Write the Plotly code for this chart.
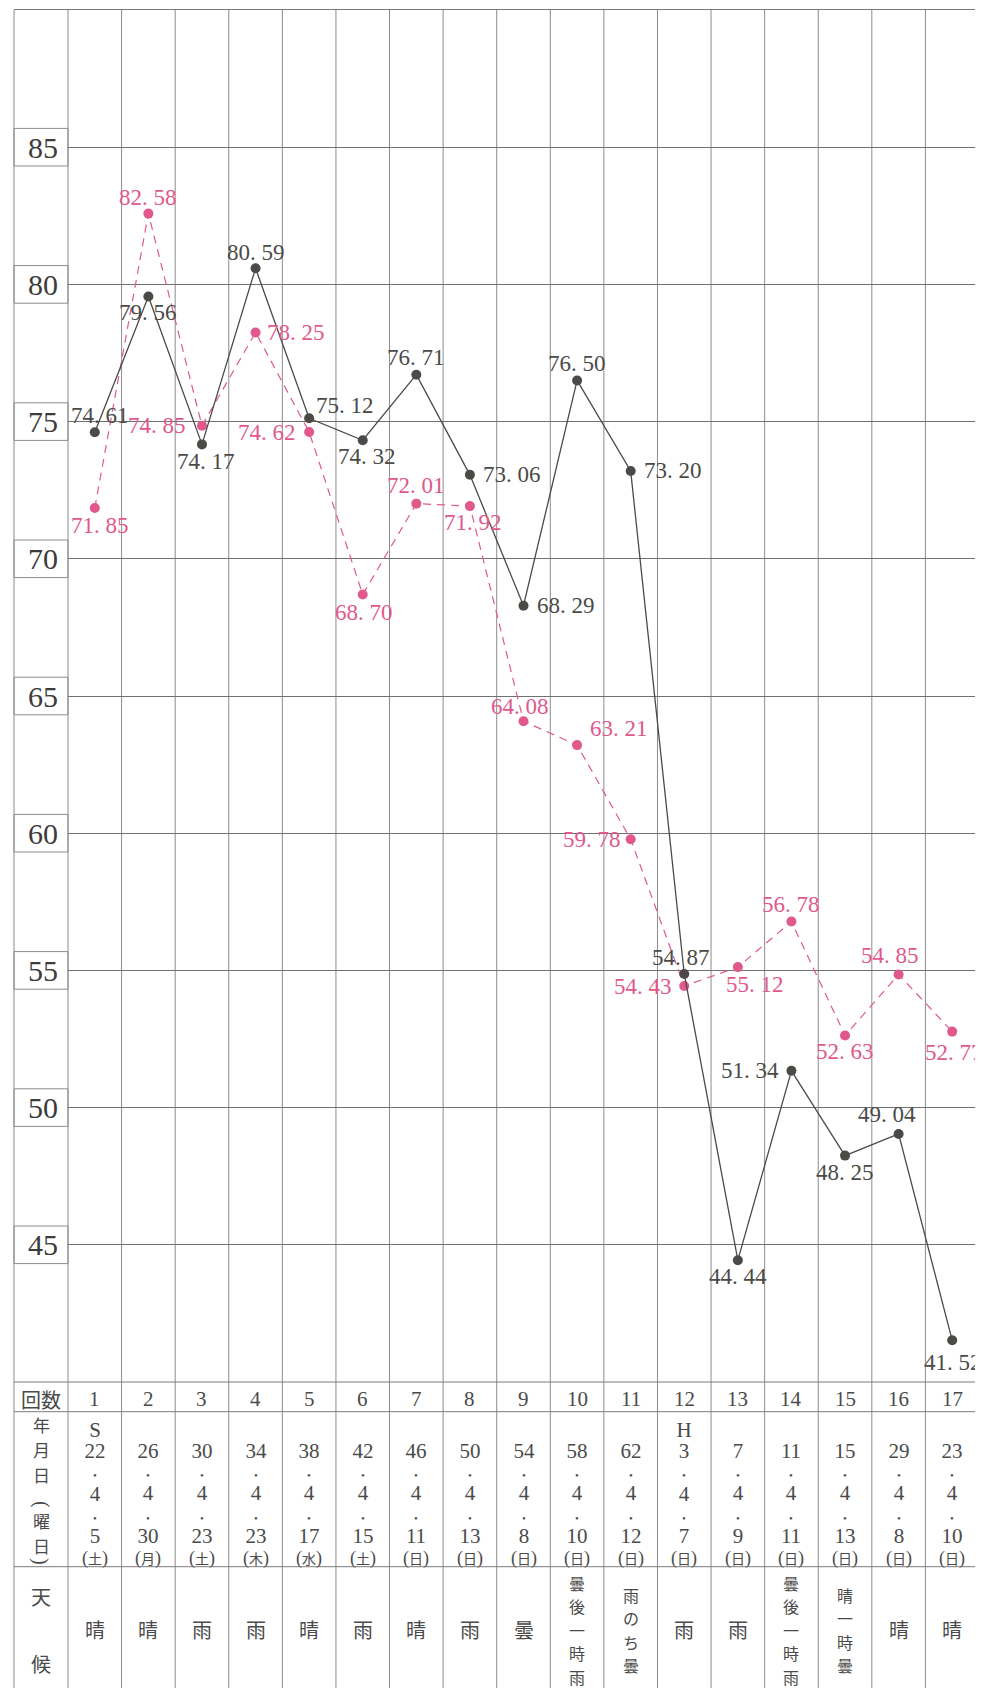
import plotly.graph_objects as go

# ---------------- data ----------------
rounds = list(range(1, 18))
turnout_main = [74.61, 79.56, 74.17, 80.59, 75.12, 74.32, 76.71, 73.06, 68.29,
                76.50, 73.20, 54.87, 44.44, 51.34, 48.25, 49.04, 41.52]
turnout_pink = [71.85, 82.58, 74.85, 78.25, 74.62, 68.70, 72.01, 71.92, 64.08,
                63.21, 59.78, 54.43, 55.12, 56.78, 52.63, 54.85, 52.77]
era_prefix = ["S", "", "", "", "", "", "", "", "", "", "", "H", "", "", "", "", ""]
years = ["22", "26", "30", "34", "38", "42", "46", "50", "54", "58", "62",
         "3", "7", "11", "15", "29", "23"]
months = ["4", "4", "4", "4", "4", "4", "4", "4", "4", "4", "4",
          "4", "4", "4", "4", "4", "4"]
days = ["5", "30", "23", "23", "17", "15", "11", "13", "8", "10", "12",
        "7", "9", "11", "13", "8", "10"]
weekdays = ["土", "月", "土", "木", "水", "土", "日", "日", "日", "日", "日",
            "日", "日", "日", "日", "日", "日"]
weather = ["晴", "晴", "雨", "雨", "晴", "雨", "晴", "雨", "曇", "曇後一時雨",
           "雨のち曇", "雨", "雨", "曇後一時雨", "晴一時曇", "晴", "晴"]
y_ticks = [45, 50, 55, 60, 65, 70, 75, 80, 85]

# label offsets (pixels): (xshift, yshift, xanchor)
main_lbl = [(5, 17, "center"), (0, -16, "center"), (4, -17, "center"), (0, 16, "center"),
            (5, 13, "left"), (4, -16, "center"), (0, 17, "center"), (11, 0, "left"),
            (11, 0, "left"), (0, 17, "center"), (11, 0, "left"), (-3, 16, "center"),
            (0, -16, "center"), (-10, 0, "right"), (0, -17, "center"), (-12, 19, "center"),
            (1, -22, "center")]
pink_lbl = [(5, -17, "center"), (0, 16, "center"), (-14, 0, "right"), (9, 0, "left"),
            (-11, 0, "right"), (1, -18, "center"), (0, 18, "center"), (3, -16, "center"),
            (-4, 15, "center"), (11, 17, "left"), (-8, 0, "right"), (-10, 0, "right"),
            (17, -17, "center"), (0, 17, "center"), (0, -16, "center"), (-9, 19, "center"),
            (2, -21, "center")]

# ---------------- layout geometry ----------------
OFF = 8                      # page body margin
W, H = 983 - OFF, 1688 - OFF
ML, MR, MT, MB = 60, 4, 2, 306
PW = W - ML - MR
PH = H - MT - MB


def px_x(page_px):
    return (page_px - OFF - ML) / PW


def px_y(page_py):
    return (H - MB - (page_py - OFF)) / PH


MAIN_C = "#4a4a47"
PINK_C = "#e0588c"
GRID_C = "#8c8c8c"
TEXT_C = "#4a4a4a"
SERIF = "Liberation Serif, Noto Sans CJK JP"
CJK = "Noto Sans CJK JP, Liberation Serif"
JP = "Noto Sans CJK JP"
LS = "Liberation Serif"

fig = go.Figure()
fig.add_trace(go.Scatter(
    x=rounds, y=turnout_pink, mode="lines+markers",
    line=dict(color=PINK_C, width=1.2, dash="8px,6px"),
    marker=dict(color=PINK_C, size=10), cliponaxis=False, hoverinfo="skip"))
fig.add_trace(go.Scatter(
    x=rounds, y=turnout_main, mode="lines+markers",
    line=dict(color=MAIN_C, width=1.3),
    marker=dict(color=MAIN_C, size=10), cliponaxis=False, hoverinfo="skip"))

ann = []


def fmt(v):
    return f"{v:.2f}".replace(".", ". ")


for r, v, (dx, dy, xa) in zip(rounds, turnout_main, main_lbl):
    ann.append(dict(x=r, y=v, xref="x", yref="y", text=fmt(v), showarrow=False,
                    xshift=dx, yshift=dy, xanchor=xa, yanchor="middle",
                    font=dict(family=SERIF, size=23, color=MAIN_C)))
for r, v, (dx, dy, xa) in zip(rounds, turnout_pink, pink_lbl):
    ann.append(dict(x=r, y=v, xref="x", yref="y", text=fmt(v), showarrow=False,
                    xshift=dx, yshift=dy, xanchor=xa, yanchor="middle",
                    font=dict(family=SERIF, size=23, color=PINK_C)))

shapes = []
LEFT = px_x(14)
BOTTOM = px_y(1688)
line_style = dict(color=GRID_C, width=1)

# y label boxes
for v in y_ticks:
    shapes.append(dict(type="rect", xref="paper", yref="y", x0=LEFT, x1=0,
                       y0=v - 0.685, y1=v + 0.685, line=line_style, layer="below"))
# vertical column lines
for k in range(18):
    shapes.append(dict(type="line", xref="paper", yref="paper", x0=k / 17, x1=k / 17,
                       y0=BOTTOM, y1=1, line=line_style, layer="below"))
# left border, top border, table rows
shapes.append(dict(type="line", xref="paper", yref="paper", x0=LEFT, x1=LEFT,
                   y0=BOTTOM, y1=1, line=line_style))
for py in [9.5, 1382, 1411.7, 1566.7]:
    shapes.append(dict(type="line", xref="paper", yref="paper", x0=LEFT, x1=1,
                       y0=px_y(py), y1=px_y(py), line=dict(color="#7a7a7a", width=1)))

LABX = px_x(41)


def txt(x, py, s, size=20, fam=CJK, xref="x", color=TEXT_C, angle=0):
    ann.append(dict(x=x, y=px_y(py), xref=xref, yref="paper", text=s, showarrow=False,
                    xanchor="center", yanchor="middle", textangle=angle,
                    font=dict(family=fam, size=size, color=color)))


def span(s, sz, f):
    return f'<span style="font-size:{sz}px;font-family:{f}">{s}</span>'


def stack(x, py_center, lines, spacing, xref="x", fam=CJK):
    """lines: list of html strings; lines spaced by `spacing` px."""
    txt(x, py_center, "<br>".join(lines), size=spacing / 1.3, fam=fam, xref=xref)


# left label column of table
txt(LABX, 1399.3, "回数", xref="paper")
stack(LABX, 1450, [span(c, 17, JP) for c in "年月日"], 25, xref="paper")
stack(LABX, 1532.5, [span(c, 17, JP) for c in "曜日"], 25, xref="paper")
txt(LABX, 1504, "(", size=20, fam=LS, xref="paper", angle=90)
txt(LABX, 1561, ")", size=20, fam=LS, xref="paper", angle=90)
txt(LABX, 1596.7, "天", xref="paper")
txt(LABX, 1663.3, "候", xref="paper")

DATE_SP = 21.2
for i, r in enumerate(rounds):
    txt(r, 1399.3, str(r), size=21, fam=SERIF)
    lines = []
    if era_prefix[i]:
        lines.append(span(era_prefix[i], 21, LS))
    wd = span("(", 18, LS) + span(weekdays[i], 14, JP) + span(")", 18, LS)
    lines += [span(years[i], 21, LS), span("•", 11, LS), span(months[i], 21, LS),
              span("•", 11, LS), span(days[i], 21, LS), wd]
    center = 1557 - (len(lines) - 1) * DATE_SP / 2
    stack(r, center, lines, DATE_SP, fam=SERIF)
    w = weather[i]
    if len(w) == 1:
        txt(r, 1630, w, size=20, fam=JP)
    else:
        stack(r, 1630, [span(c, 16, JP) for c in w], 23.4)

fig.update_layout(
    width=W, height=H,
    margin=dict(l=ML, r=MR, t=MT, b=MB, pad=0),
    paper_bgcolor="white", plot_bgcolor="white",
    showlegend=False,
    shapes=shapes, annotations=ann,
    xaxis=dict(range=[0.5, 17.5], showgrid=False, zeroline=False, showline=False,
               showticklabels=False, ticks="", fixedrange=True),
    yaxis=dict(range=[40, 90], tickvals=y_ticks, showgrid=True, gridcolor="#707070",
               gridwidth=1, zeroline=False, showline=False, ticks="",
               ticklabelstandoff=9,
               tickfont=dict(family="Liberation Serif", size=30, color="#3c3c3c"),
               fixedrange=True),
)

fig.write_html("out.html")
